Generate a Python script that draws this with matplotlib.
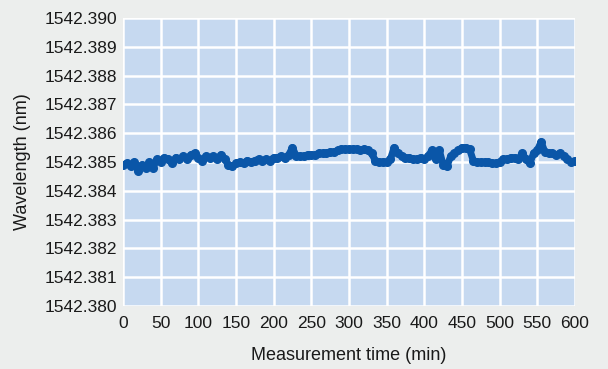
import numpy as np
import matplotlib
matplotlib.use('Agg')
import matplotlib.pyplot as plt
from matplotlib.ticker import MultipleLocator, FormatStrFormatter

# measurement time (min), every 5 min
time_min = list(range(0, 605, 5))
# wavelength readings (nm)
wavelength = [
    1542.38490, 1542.38495, 1542.38485, 1542.38500, 1542.38470, 1542.38490,
    1542.38480, 1542.38500, 1542.38480, 1542.38510, 1542.38500, 1542.38515,
    1542.38510, 1542.38495, 1542.38515, 1542.38510, 1542.38520, 1542.38510,
    1542.38525, 1542.38530, 1542.38515, 1542.38505, 1542.38520, 1542.38515,
    1542.38520, 1542.38510, 1542.38525, 1542.38510, 1542.38490, 1542.38485,
    1542.38495, 1542.38500, 1542.38495, 1542.38505, 1542.38500, 1542.38505,
    1542.38510, 1542.38505, 1542.38510, 1542.38505, 1542.38515, 1542.38515,
    1542.38520, 1542.38515, 1542.38525, 1542.38550, 1542.38520, 1542.38520,
    1542.38520, 1542.38525, 1542.38525, 1542.38525, 1542.38530, 1542.38530,
    1542.38530, 1542.38535, 1542.38535, 1542.38540, 1542.38545, 1542.38545,
    1542.38545, 1542.38545, 1542.38545, 1542.38540, 1542.38545, 1542.38540,
    1542.38530, 1542.38505, 1542.38500, 1542.38500, 1542.38500, 1542.38510,
    1542.38550, 1542.38530, 1542.38520, 1542.38515, 1542.38515, 1542.38510,
    1542.38510, 1542.38515, 1542.38510, 1542.38520, 1542.38540, 1542.38510,
    1542.38540, 1542.38490, 1542.38485, 1542.38520, 1542.38530, 1542.38540,
    1542.38550, 1542.38550, 1542.38545, 1542.38505, 1542.38500, 1542.38500,
    1542.38500, 1542.38500, 1542.38495, 1542.38495, 1542.38500, 1542.38510,
    1542.38510, 1542.38515, 1542.38515, 1542.38510, 1542.38530, 1542.38510,
    1542.38495, 1542.38530, 1542.38540, 1542.38570, 1542.38535, 1542.38530,
    1542.38530, 1542.38525, 1542.38530, 1542.38520, 1542.38510, 1542.38500,
    1542.38505,
]

plt.rcParams['font.family'] = ['Liberation Sans Narrow', 'Liberation Sans', 'DejaVu Sans']

fig = plt.figure(figsize=(6.08, 3.69), dpi=100, facecolor='#eceeed')
ax = fig.add_axes([0.2023, 0.1707, 0.7434, 0.7805])
ax.set_facecolor('#c6d9f0')

ax.plot(time_min, wavelength, color='#0a56a8', linewidth=5, marker='o',
        markersize=5.5, solid_capstyle='round', solid_joinstyle='round')

ax.set_xlim(0, 600)
ax.set_ylim(1542.380, 1542.390)
ax.xaxis.set_major_locator(MultipleLocator(50))
ax.yaxis.set_major_locator(MultipleLocator(0.001))
ax.yaxis.set_major_formatter(FormatStrFormatter('%.3f'))

ax.grid(True, color='white', linewidth=1.8)
ax.set_axisbelow(True)
for s in ax.spines.values():
    s.set_visible(False)
ax.tick_params(length=0, labelsize=12.5, colors='#1a1a1a')
ax.tick_params(axis='x', pad=7)
ax.tick_params(axis='y', pad=4)

ax.set_xlabel('Measurement time (min)', fontsize=13, color='#1a1a1a', labelpad=12)
ax.set_ylabel('Wavelength (nm)', fontsize=13, color='#1a1a1a', labelpad=10)

fig.savefig('out.png', dpi=100, facecolor=fig.get_facecolor())
